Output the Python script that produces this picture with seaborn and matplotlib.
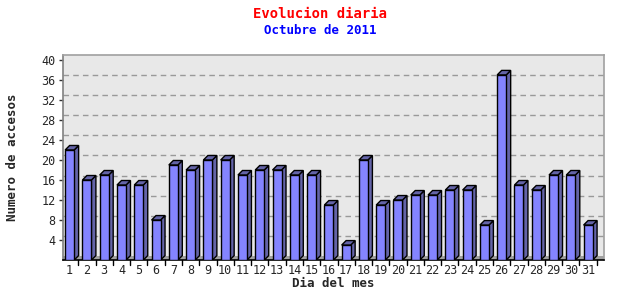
import matplotlib
matplotlib.use("Agg")
import matplotlib.pyplot as plt
import seaborn as sns
import pandas as pd
from matplotlib.patches import Polygon

days = [str(d) for d in range(1, 32)]
accesos = [22, 16, 17, 15, 15, 8, 19, 18, 20, 20, 17, 18, 18, 17, 17, 11,
           3, 20, 11, 12, 13, 13, 14, 14, 7, 37, 15, 14, 17, 17, 7]
yticks = [4, 8, 12, 16, 20, 24, 28, 32, 36, 40]

sns.set_theme(style="white")
plt.rcParams['font.family'] = ['DejaVu Sans Mono']

df = pd.DataFrame({"dia": days, "accesos": accesos})

fig = plt.figure(figsize=(6.4, 3.0), dpi=100)
fig.patch.set_facecolor("white")
ax = fig.add_axes([0.098, 0.133, 0.846, 0.684])
ax.set_facecolor("#e8e8e8")

sns.barplot(data=df, x="dia", y="accesos", color="#8484ff", width=0.52,
            saturation=1, edgecolor="black", linewidth=1.0, ax=ax, zorder=3)
bars = list(ax.patches)

ax.set_xlim(-0.4, 30.93)
ax.set_ylim(0, 41)

# depth offsets (3D look)
dx, dy = 0.26, 0.9

# back-wall dashed gridlines
for t in yticks[:-1]:
    ax.axhline(t + dy, color="#999999", lw=1.0, ls=(0, (4, 3)), zorder=1)
# floor
ax.axhspan(0, dy, color="#a0a0a0", zorder=1.5, lw=0)

for p in bars:
    x0, w, h = p.get_x(), p.get_width(), p.get_height()
    side = Polygon([(x0 + w, 0), (x0 + w + dx, dy), (x0 + w + dx, h + dy), (x0 + w, h)],
                   closed=True, facecolor="#6464a8", edgecolor="black", lw=1.0, zorder=2.9)
    top = Polygon([(x0, h), (x0 + dx, h + dy), (x0 + w + dx, h + dy), (x0 + w, h)],
                  closed=True, facecolor="#6464a8", edgecolor="black", lw=1.0, zorder=2.9)
    ax.add_patch(side)
    ax.add_patch(top)

ax.set_yticks(yticks)
ax.set_yticklabels([str(t) for t in yticks], fontsize=8.5)
ax.set_xticks(range(len(days)))
ax.set_xticklabels(days, fontsize=8.5)
ax.tick_params(axis="x", length=0, pad=3)
ax.tick_params(axis="y", left=True, length=3, width=1, color="#333333", pad=2)
for b in range(len(days)):
    ax.plot([b + 0.5, b + 0.5], [0, -0.9], color="black", lw=1, clip_on=False, zorder=4)

for s in ["top", "right"]:
    ax.spines[s].set_color("#a0a0a0")
    ax.spines[s].set_linewidth(1.2)
ax.spines["left"].set_color("#808080")
ax.spines["left"].set_linewidth(1.2)
ax.spines["bottom"].set_color("black")
ax.spines["bottom"].set_linewidth(1.2)

ax.set_xlabel("Dia del mes", fontsize=9, fontweight="bold", labelpad=0)
ax.set_ylabel("Numero de accesos", fontsize=9, fontweight="bold", labelpad=16)

fig.text(0.5, 0.953, "Evolucion diaria", color="red", fontsize=10,
         fontweight="bold", ha="center", va="center")
fig.text(0.5, 0.897, "Octubre de 2011", color="blue", fontsize=9,
         fontweight="bold", ha="center", va="center")

fig.savefig("out.png", dpi=100)
